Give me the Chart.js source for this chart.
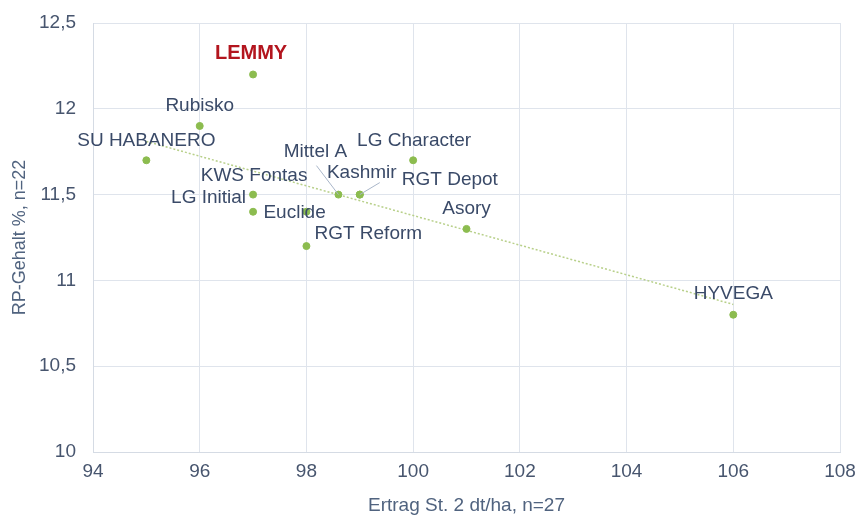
<!DOCTYPE html>
<html>
<head>
<meta charset="utf-8">
<script src="https://cdn.jsdelivr.net/npm/chart.js@4.4.0/dist/chart.umd.min.js"></script>
<style>
  html, body { margin: 0; padding: 0; background: #fff; }
  #wrap { width: 859px; height: 518px; position: relative; }
</style>
</head>
<body>
<div id="wrap"><canvas id="chart"></canvas></div>
<script>
// --- DATA ---
const varieties = ['LEMMY', 'Rubisko', 'SU HABANERO', 'KWS Fontas', 'LG Initial', 'Euclide',
    'Mittel A', 'Kashmir', 'RGT Depot', 'LG Character', 'Asory', 'RGT Reform', 'HYVEGA'];
const yieldValues = [97, 96, 95, 97, 97, 98, 98.6, 99, 99, 100, 101, 98, 106];
const proteinValues = [12.2, 11.9, 11.7, 11.5, 11.4, 11.4, 11.5, 11.5, 11.5, 11.7, 11.3, 11.2, 10.8];
const trendX = [95, 106];
const trendY = [11.81, 10.86];
const xTicks = [94, 96, 98, 100, 102, 104, 106, 108];
const yTicks = ['10', '10,5', '11', '11,5', '12', '12,5'];

// label placement (pixel offsets from the point + anchor), leader lines for moved labels
const labelOffsets = [[-2, -21], [0, -20], [0, -20], [1, -19], [-7, -14], [-43, 1],
    [-23, -43], [2, -22], [42, -15], [1, -20], [0, -20], [8, -12], [0, -21]];
const labelAlign = ['center', 'center', 'center', 'center', 'right', 'left',
    'center', 'center', 'left', 'center', 'center', 'left', 'center'];
const leaderLines = { 'Mittel A': [1, 14], 'Kashmir': [18, 10] };

const FONT = '"Liberation Sans", Arial, sans-serif';
const points = varieties.map((name, i) => ({ x: yieldValues[i], y: proteinValues[i] }));
const trend = trendX.map((x, i) => ({ x: x, y: trendY[i] }));

const labelPlugin = {
    id: 'pointLabels',
    afterDatasetsDraw(chart) {
        const ctx = chart.ctx;
        const xs = chart.scales.x, ys = chart.scales.y;
        ctx.save();
        ctx.textBaseline = 'middle';
        varieties.forEach((name, i) => {
            const px = xs.getPixelForValue(yieldValues[i]);
            const py = ys.getPixelForValue(proteinValues[i]);
            const lx = px + labelOffsets[i][0];
            const ly = py + labelOffsets[i][1];
            if (leaderLines[name]) {
                ctx.strokeStyle = '#a9b6c9';
                ctx.lineWidth = 1;
                ctx.beginPath();
                ctx.moveTo(lx + leaderLines[name][0], ly + leaderLines[name][1]);
                ctx.lineTo(px, py);
                ctx.stroke();
            }
            if (name === 'LEMMY') {
                ctx.font = 'bold 20px ' + FONT;
                ctx.fillStyle = '#b3151e';
            } else {
                ctx.font = '19px ' + FONT;
                ctx.fillStyle = '#3a4a68';
            }
            ctx.textAlign = labelAlign[i];
            ctx.fillText(name, lx, ly);
        });
        ctx.restore();
    }
};

new Chart(document.getElementById('chart'), {
    type: 'scatter',
    data: {
        datasets: [
            {
                label: 'Sorten',
                data: points,
                backgroundColor: '#8cbc4f',
                borderColor: '#8cbc4f',
                pointRadius: 3.5,
                pointHoverRadius: 3.5,
                order: 1
            },
            {
                label: 'Trend',
                type: 'line',
                data: trend,
                borderColor: '#b8d08a',
                borderWidth: 1.5,
                borderDash: [2, 2],
                pointRadius: 0,
                fill: false,
                order: 2
            }
        ]
    },
    options: {
        responsive: true,
        maintainAspectRatio: false,
        animation: false,
        layout: { padding: { top: 23, right: 19, left: 6, bottom: 0 } },
        plugins: {
            legend: { display: false },
            tooltip: { enabled: false }
        },
        scales: {
            x: {
                type: 'linear',
                min: 94,
                max: 108,
                afterBuildTicks: (scale) => { scale.ticks = xTicks.map(v => ({ value: v })); },
                afterFit: (scale) => {
                    scale.height = 66;
                    scale.paddingLeft = 0;
                    scale.paddingRight = 0;
                },
                grid: { color: '#dfe4ec', drawTicks: false },
                border: { color: '#d5dbe4' },
                ticks: {
                    color: '#47556e',
                    padding: 8,
                    font: { family: FONT, size: 19 },
                    callback: (v) => String(v)
                },
                title: {
                    display: true,
                    text: 'Ertrag St. 2 dt/ha, n=27',
                    color: '#50637f',
                    font: { family: FONT, size: 19 },
                    padding: { top: 0, bottom: 1 }
                }
            },
            y: {
                min: 10,
                max: 12.5,
                afterBuildTicks: (scale) => { scale.ticks = yTicks.map((t, i) => ({ value: 10 + i * 0.5 })); },
                afterFit: (scale) => {
                    scale.width = 87;
                    scale.paddingTop = 0;
                    scale.paddingBottom = 0;
                },
                grid: { color: '#dfe4ec', drawTicks: false },
                border: { color: '#d5dbe4' },
                ticks: {
                    color: '#47556e',
                    padding: 17,
                    font: { family: FONT, size: 19 },
                    callback: (v, i) => yTicks[i]
                },
                title: {
                    display: true,
                    text: 'RP-Gehalt %, n=22',
                    color: '#50637f',
                    font: { family: FONT, size: 18 },
                    padding: { top: 3, bottom: 0 }
                }
            }
        }
    },
    plugins: [labelPlugin]
});
</script>
</body>
</html>
